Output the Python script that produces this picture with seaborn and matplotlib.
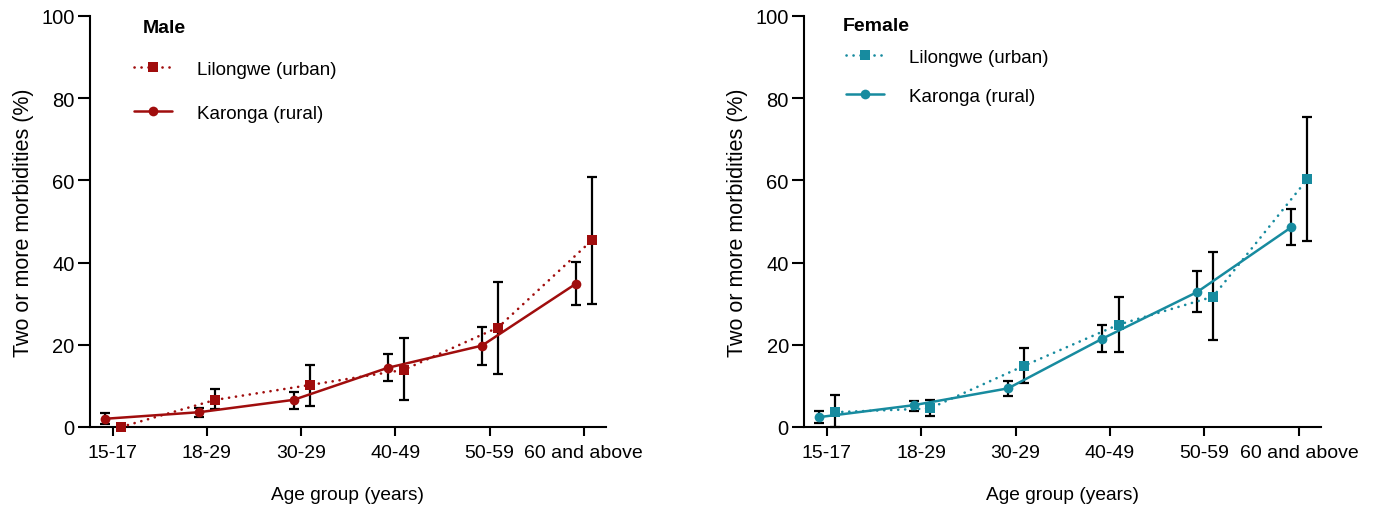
import numpy as np
import pandas as pd
import matplotlib
matplotlib.use('Agg')
import matplotlib.pyplot as plt
import seaborn as sns

# age groups (labels as printed on the original figure)
age_groups = ['15-17', '18-29', '30-29', '40-49', '50-59', '60 and above']

# male, Lilongwe (urban)
male_urban = [0.0, 6.6, 10.2, 13.9, 24.2, 45.5]
male_urban_lo = [0.0, 4.3, 5.1, 6.6, 13.0, 30.0]
male_urban_hi = [0.0, 9.2, 15.2, 21.7, 35.3, 60.8]
# male, Karonga (rural)
male_rural = [2.0, 3.6, 6.6, 14.4, 19.8, 34.9]
male_rural_lo = [0.7, 2.5, 4.4, 11.1, 15.2, 29.6]
male_rural_hi = [3.4, 4.6, 8.6, 17.7, 24.4, 40.1]

# female, Lilongwe (urban)
female_urban = [3.6, 4.5, 14.9, 24.9, 31.7, 60.3]
female_urban_lo = [0.0, 2.6, 10.7, 18.2, 21.1, 45.3]
female_urban_hi = [7.9, 6.5, 19.1, 31.6, 42.5, 75.3]
# female, Karonga (rural)
female_rural = [2.4, 5.3, 9.4, 21.5, 32.8, 48.6]
female_rural_lo = [1.0, 4.0, 7.5, 18.3, 27.9, 44.3]
female_rural_hi = [3.9, 6.3, 11.3, 24.7, 37.9, 53.0]

red = '#A00D0D'
teal = '#178B9F'

sns.set_theme(style='ticks')
plt.rcParams['font.family'] = ['Liberation Sans', 'DejaVu Sans']
plt.rcParams['axes.linewidth'] = 1.5

fig = plt.figure(figsize=(13.74, 5.10), dpi=100)
ax1 = fig.add_axes([0.0655, 0.1608, 0.3755, 0.806])
ax2 = fig.add_axes([0.5852, 0.1608, 0.3763, 0.806])

pos = np.arange(len(age_groups))


def draw_panel(ax, title, color, urb, urb_lo, urb_hi, rur, rur_lo, rur_hi, title_xy, leg_xy, leg_space):
    df_u = pd.DataFrame({'x': pos + 0.09, 'y': urb})
    df_r = pd.DataFrame({'x': pos - 0.08, 'y': rur})

    # error bars first, black
    ax.errorbar(df_u['x'], df_u['y'],
                yerr=[np.array(urb) - np.array(urb_lo), np.array(urb_hi) - np.array(urb)],
                fmt='none', ecolor='black', elinewidth=1.6, capsize=3.5, capthick=1.6,
                zorder=2, clip_on=False)
    ax.errorbar(df_r['x'], df_r['y'],
                yerr=[np.array(rur) - np.array(rur_lo), np.array(rur_hi) - np.array(rur)],
                fmt='none', ecolor='black', elinewidth=1.6, capsize=3.5, capthick=1.6,
                zorder=2, clip_on=False)

    sns.lineplot(data=df_u, x='x', y='y', ax=ax, color=color, linestyle=(0, (0.05, 2.6)),
                 linewidth=1.9, dash_capstyle='round',
                 marker='s', markersize=7, markeredgewidth=0, label='Lilongwe (urban)',
                 zorder=3, clip_on=False)
    sns.lineplot(data=df_r, x='x', y='y', ax=ax, color=color, linestyle='-', linewidth=1.8,
                 marker='o', markersize=7, markeredgewidth=0, label='Karonga (rural)',
                 zorder=3, clip_on=False)

    ax.set_xlim(-0.24, 5.235)
    ax.set_ylim(0, 100)
    ax.set_xticks(pos)
    ax.set_xticklabels(age_groups)
    ax.set_yticks([0, 20, 40, 60, 80, 100])
    ax.tick_params(axis='x', length=6.5, width=1.5, labelsize=14, pad=6, colors='black')
    ax.tick_params(axis='y', length=9, width=1.5, labelsize=14.5, pad=2, colors='black')
    ax.set_xlabel('Age group (years)', fontsize=13.8, labelpad=18, color='black')
    ax.set_ylabel('Two or more morbidities (%)', fontsize=15.5, labelpad=5, color='black')
    for s in ['top', 'right']:
        ax.spines[s].set_visible(False)
    for s in ['left', 'bottom']:
        ax.spines[s].set_color('black')

    ax.text(title_xy[0], title_xy[1], title, transform=ax.transAxes, fontsize=14,
            fontweight='bold', ha='left', va='center', color='black')
    leg = ax.legend(loc='center left', bbox_to_anchor=leg_xy, frameon=False, fontsize=13.5,
                    borderpad=0, borderaxespad=0, handlelength=2.05, handletextpad=1.3,
                    labelspacing=leg_space)
    for t in leg.get_texts():
        t.set_color('black')


draw_panel(ax1, 'Male', red, male_urban, male_urban_lo, male_urban_hi,
           male_rural, male_rural_lo, male_rural_hi,
           (0.103, 0.973), (0.085, 0.817), 1.45)
draw_panel(ax2, 'Female', teal, female_urban, female_urban_lo, female_urban_hi,
           female_rural, female_rural_lo, female_rural_hi,
           (0.075, 0.976), (0.081, 0.852), 1.15)

fig.savefig('out.png', dpi=100)
